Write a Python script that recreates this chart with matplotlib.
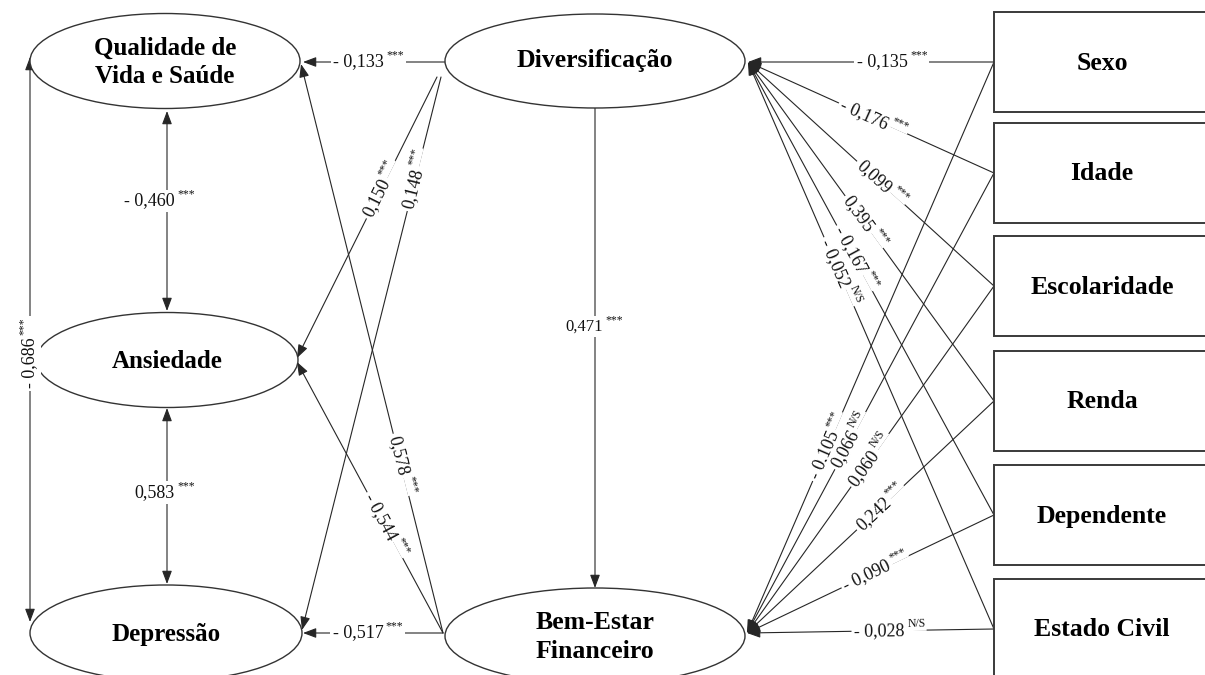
import numpy as np
import matplotlib.pyplot as plt
from matplotlib.patches import Ellipse, Rectangle

plt.rcParams['font.family'] = ['Liberation Serif', 'DejaVu Serif']

# ---- data (path coefficients) ----
observed = ["Sexo", "Idade", "Escolaridade", "Renda", "Dependente", "Estado Civil"]
div_coef = [-0.135, -0.176, 0.099, 0.395, -0.167, -0.052]
div_sig = ["***", "***", "***", "***", "***", "N/S"]
bef_coef = [-0.105, 0.066, 0.060, 0.242, -0.090, -0.028]
bef_sig = ["***", "N/S", "N/S", "***", "***", "N/S"]

outcomes = ["Qualidade de\nVida e Saúde", "Ansiedade", "Depressão"]
div_out_coef = [-0.133, 0.150, 0.148]
bef_out_coef = [0.578, -0.544, -0.517]
out_sig = ["***", "***", "***"]
div_bef_coef = 0.471
cov_pairs = [(0, 1), (1, 2), (0, 2)]
cov_coef = [-0.460, 0.583, -0.686]
cov_sig = ["***", "***", "***"]

# ---- layout (pixels) ----
ell = {0: (165, 61, 270, 95), 1: (167, 360, 262, 95), 2: (166, 633, 272, 96),
       'div': (595, 61, 300, 94), 'bef': (595, 636, 300, 96)}
box_x0, box_w, box_h = 994, 218, 100
box_tops = [12, 123, 236, 351, 465, 579]
div_tip = (748, 62)
bef_tip = (747, 633)
div_left = [(445, 62), (437, 77), (441, 77)]
bef_left = (443, 633)
out_from_div = [(303, 62), (297, 358), (302, 630)]
out_from_bef = [(301, 64), (297, 362), (303, 633)]
t_div_out = [0.48, 0.39, 0.18]
t_bef_out = [0.29, 0.37, 0.48]
t_div_box = [0.38, 0.46, 0.45, 0.52, 0.55, 0.62]
t_bef_box = [0.66, 0.58, 0.50, 0.45, 0.45, 0.40]
cov_ends = [((167, 111), (167, 311)), ((167, 408), (167, 584)), ((30, 57), (30, 622))]
cov_t = [0.45, 0.48, 0.51]
cov_rot = [0, 0, None]

LC = '#262626'


def fmt(v):
    s = f"{abs(v):.3f}".replace(".", ",")
    return "- " + s if v < 0 else s


def arrow(ax, p0, p1, both=False):
    style = '<|-|>' if both else '-|>'
    ax.annotate('', xy=p1, xytext=p0,
                arrowprops=dict(arrowstyle=style + ',head_length=0.8,head_width=0.3',
                                lw=0.8, color=LC, shrinkA=0, shrinkB=0,
                                mutation_scale=10))


def label(ax, p0, p1, t, val, sig, rot=None, fs=13):
    cx = p0[0] + t * (p1[0] - p0[0])
    cy = p0[1] + t * (p1[1] - p0[1])
    if rot is None:
        rot = np.degrees(np.arctan2(-(p1[1] - p0[1]), p1[0] - p0[0]))
        if rot > 90:
            rot -= 180
        if rot <= -90:
            rot += 180
    th = np.radians(rot)
    d = np.array([np.cos(th), -np.sin(th)])
    up = np.array([-np.sin(th), -np.cos(th)])
    sw = 15 if sig == "***" else 19
    c = np.array([cx, cy])
    pm = c + d * (sw / 2)
    ax.text(pm[0], pm[1], fmt(val), fontsize=fs, ha='right', va='center',
            rotation=rot, rotation_mode='anchor', color='#111',
            bbox=dict(boxstyle='square,pad=0.15', fc='white', ec='none'))
    ps = pm + d * 2.5 + up * 6.5
    ax.text(ps[0], ps[1], sig, fontsize=8.5, ha='left', va='center',
            rotation=rot, rotation_mode='anchor', color='#111',
            bbox=dict(boxstyle='square,pad=0.1', fc='white', ec='none'))


fig = plt.figure(figsize=(12.05, 6.75), dpi=100)
ax = fig.add_axes([0, 0, 1, 1])
ax.set_xlim(0, 1205)
ax.set_ylim(675, 0)
ax.axis('off')

# lines first, labels later so the white boxes cut the lines
for i in range(6):
    y = box_tops[i] + box_h / 2
    arrow(ax, (box_x0, y), div_tip)
    arrow(ax, (box_x0, y), bef_tip)
for i in range(3):
    arrow(ax, div_left[i], out_from_div[i])
    arrow(ax, bef_left, out_from_bef[i])
arrow(ax, (595, 108), (595, 588))
for (a, b) in cov_ends:
    arrow(ax, a, b, both=True)

# nodes
for k, (x, y, w, h) in ell.items():
    ax.add_patch(Ellipse((x, y), w, h, fc='white', ec='#333', lw=1.0, zorder=3))
for i, name in enumerate(outcomes):
    x, y = ell[i][:2]
    ax.text(x, y + 1, name, fontsize=18, fontweight='bold', ha='center', va='center',
            zorder=4, linespacing=1.3)
ax.text(595, 61, "Diversificação", fontsize=18.5, fontweight='bold',
        ha='center', va='center', zorder=4)
ax.text(595, 637, "Bem-Estar\nFinanceiro", fontsize=18.5, fontweight='bold',
        ha='center', va='center', zorder=4, linespacing=1.3)
for i, name in enumerate(observed):
    ax.add_patch(Rectangle((box_x0, box_tops[i]), box_w, box_h, fc='white',
                           ec='#3a3a3a', lw=1.4, zorder=3))
    ax.text(box_x0 + 108, box_tops[i] + box_h / 2 + 1, name, fontsize=18.5,
            fontweight='bold', ha='center', va='center', zorder=4)

# coefficient labels
for i in range(6):
    y = box_tops[i] + box_h / 2
    label(ax, (box_x0, y), div_tip, t_div_box[i], div_coef[i], div_sig[i])
    label(ax, (box_x0, y), bef_tip, t_bef_box[i], bef_coef[i], bef_sig[i])
for i in range(3):
    label(ax, div_left[i], out_from_div[i], t_div_out[i], div_out_coef[i], out_sig[i])
    label(ax, bef_left, out_from_bef[i], t_bef_out[i], bef_out_coef[i], out_sig[i])
label(ax, (595, 108), (595, 588), 0.456, div_bef_coef, "***", rot=0, fs=12)
for i, (a, b) in enumerate(cov_ends):
    label(ax, a, b, cov_t[i], cov_coef[i], cov_sig[i], rot=cov_rot[i])

fig.savefig('out.png', dpi=100)
